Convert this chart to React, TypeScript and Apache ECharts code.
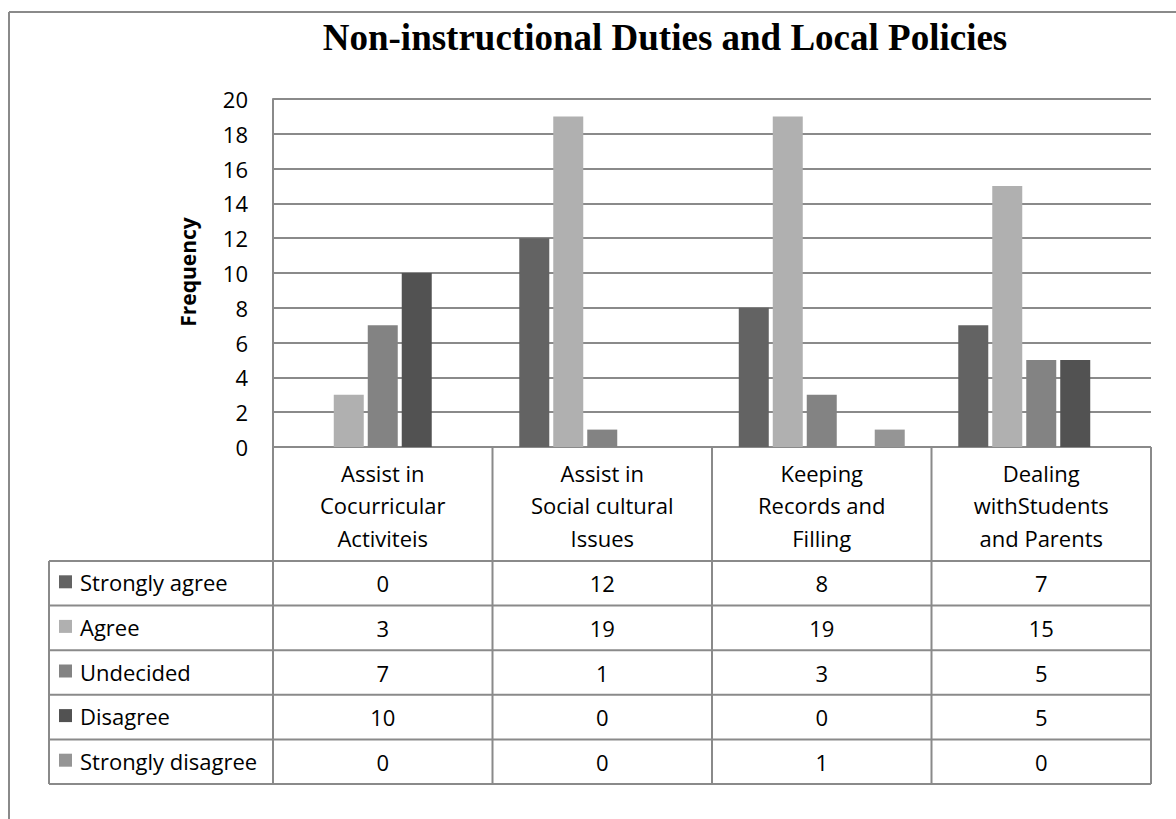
import React, { useEffect, useRef } from "react";
import * as echarts from "echarts";

const TITLE = "Non-instructional Duties and Local Policies";
const Y_TITLE = "Frequency";
const categories = [
  "Assist in\nCocurricular\nActiviteis",
  "Assist in\nSocial cultural\nIssues",
  "Keeping\nRecords and\nFilling",
  "Dealing\nwithStudents\nand Parents",
];
const seriesNames = ["Strongly agree", "Agree", "Undecided", "Disagree", "Strongly disagree"];
const stronglyAgree = [0, 12, 8, 7];
const agree = [3, 19, 19, 15];
const undecided = [7, 1, 3, 5];
const disagree = [10, 0, 0, 5];
const stronglyDisagree = [0, 0, 1, 0];
const seriesValues = [stronglyAgree, agree, undecided, disagree, stronglyDisagree];
const colors = ["#636363", "#b0b0b0", "#838383", "#525252", "#959595"];

const FONT = "'Open Sans', 'Noto Sans', sans-serif";
const LINE = "#8a8a8a";

export default function App() {
  const ref = useRef<HTMLDivElement>(null);
  useEffect(() => {
    if (!ref.current) return;
    const chart = echarts.init(ref.current, undefined, { renderer: "svg" });

    const plotL = 273, plotR = 1151, plotT = 99, plotB = 447;
    const legL = 49;
    const headB = 561;
    const rowH = 44.6;
    const catW = (plotR - plotL) / categories.length;
    const tableB = headB + rowH * seriesNames.length;

    const graphics: any[] = [];
    const ln = (x1: number, y1: number, x2: number, y2: number, w = 2, c = LINE) =>
      graphics.push({ type: "line", shape: { x1, y1, x2, y2 }, style: { stroke: c, lineWidth: w }, silent: true });

    // outer frame (top and left)
    ln(9, 12, 1176, 12, 2);
    ln(9, 12, 9, 819, 2);

    // title
    graphics.push({
      type: "text", x: 665, y: 37,
      style: { text: TITLE, font: "bold 37px 'Liberation Serif', 'Times New Roman', serif", fill: "#000", align: "center", verticalAlign: "middle" },
    });
    // y title
    graphics.push({
      type: "text", x: 188, y: 272, rotation: Math.PI / 2,
      style: { text: Y_TITLE, font: `bold 21px ${FONT}`, fill: "#000", align: "center", verticalAlign: "middle" },
    });

    // table horizontal lines
    ln(plotL, plotB, plotR, plotB);
    for (let r = 0; r <= seriesNames.length; r++) {
      const y = headB + r * rowH;
      ln(legL, y, plotR, y);
    }
    // vertical lines
    ln(legL, headB, legL, tableB);
    for (let c = 0; c <= categories.length; c++) {
      const x = plotL + c * catW;
      ln(x, plotB, x, tableB);
    }
    // header text
    categories.forEach((cat, i) => {
      graphics.push({
        type: "text", x: plotL + (i + 0.5) * catW, y: (plotB + headB) / 2 + 1,
        style: { text: cat, font: `22px ${FONT}`, fill: "#000", align: "center", verticalAlign: "middle", lineHeight: 32.5 },
      });
    });
    // rows
    seriesNames.forEach((name, r) => {
      const cy = headB + (r + 0.5) * rowH;
      graphics.push({ type: "rect", shape: { x: 59, y: cy - 8, width: 13, height: 13 }, style: { fill: colors[r] } });
      graphics.push({
        type: "text", x: 80, y: cy - 1,
        style: { text: name, font: `22px ${FONT}`, fill: "#000", align: "left", verticalAlign: "middle" },
      });
      seriesValues[r].forEach((v, i) => {
        graphics.push({
          type: "text", x: plotL + (i + 0.5) * catW, y: cy,
          style: { text: String(v), font: `22px ${FONT}`, fill: "#000", align: "center", verticalAlign: "middle" },
        });
      });
    });

    chart.setOption({
      animation: false,
      backgroundColor: "#fff",
      grid: { left: plotL, top: plotT, width: plotR - plotL, height: plotB - plotT, containLabel: false },
      xAxis: {
        type: "category",
        data: categories,
        axisLine: { show: false },
        axisTick: { show: false },
        axisLabel: { show: false },
        splitLine: { show: false },
      },
      yAxis: {
        type: "value",
        min: 0,
        max: 20,
        interval: 2,
        axisLine: { show: true, lineStyle: { color: LINE, width: 2 } },
        axisTick: { show: false },
        axisLabel: { fontSize: 22, fontFamily: FONT, color: "#000", margin: 25 },
        splitLine: { show: true, lineStyle: { color: LINE, width: 2 } },
      },
      series: seriesNames.map((name, i) => ({
        name,
        type: "bar",
        data: seriesValues[i],
        barWidth: 30,
        barGap: "13.3%",
        itemStyle: { color: colors[i] },
      })),
      graphic: graphics,
    });
    return () => chart.dispose();
  }, []);
  return <div ref={ref} style={{ position: "fixed", left: 0, top: 0, width: 1176, height: 819 }} />;
}
